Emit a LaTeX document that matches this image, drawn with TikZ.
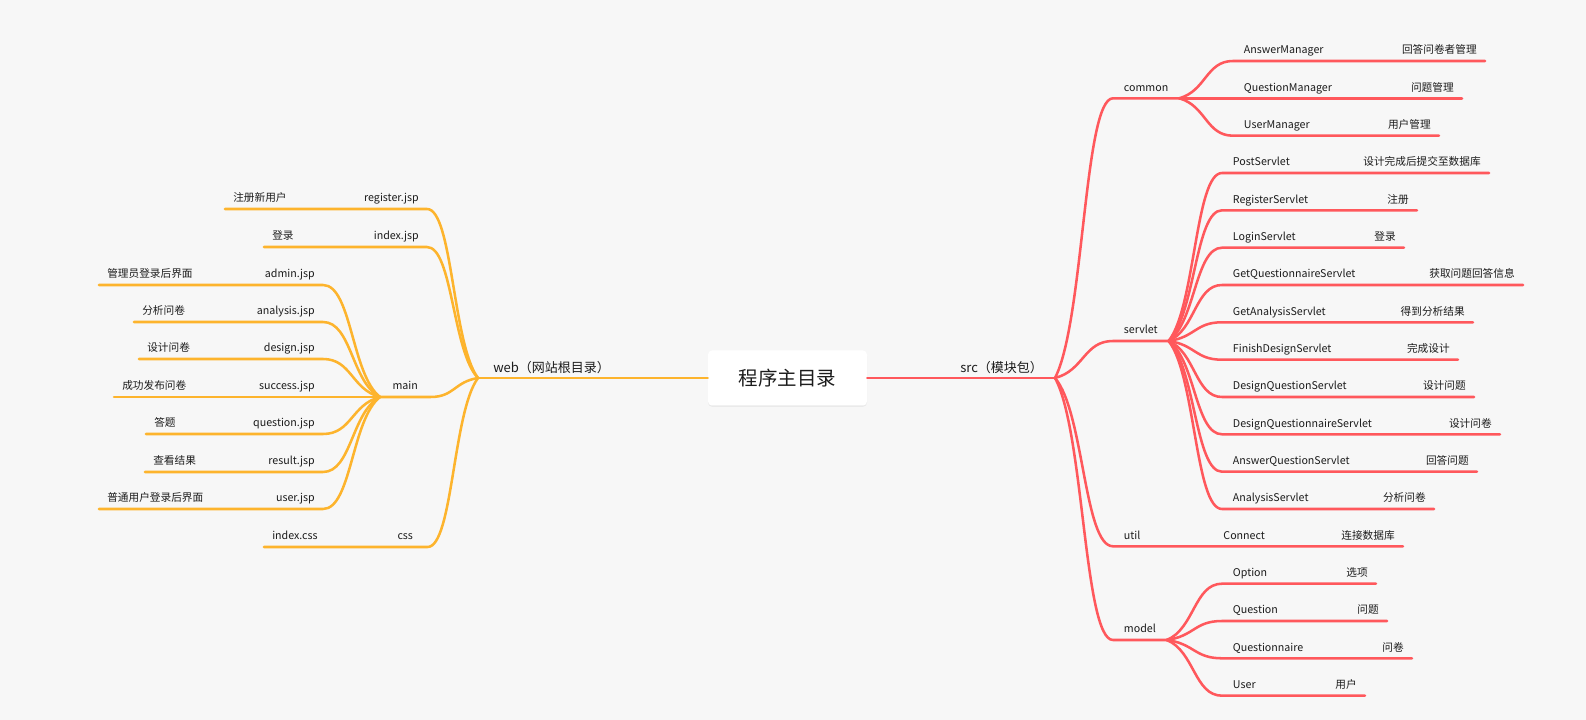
\documentclass[tikz,border=0pt]{standalone}
\usepackage{fontspec}
\setmainfont{Noto Sans CJK SC}
\usetikzlibrary{calc,shadows}

\definecolor{paper}{RGB}{247,247,247}
\definecolor{ink}{RGB}{28,28,28}
\definecolor{webline}{RGB}{253,180,45}
\definecolor{srcline}{RGB}{255,88,92}

\tikzset{
  txt/.style={font=\fontsize{8}{10}\selectfont, text=ink, inner xsep=6pt, inner ysep=3pt, text height=6pt, text depth=2.25pt},
  lft/.style={txt, anchor=south west},
  rgt/.style={txt, anchor=south east},
  kid/.style={txt, anchor=south west, inner xsep=8pt},
  topic/.style={txt, font=\fontsize{9.75}{12}\selectfont, inner ysep=1.55pt, anchor=south west},
  fork/.style={to path={let \p1=(\tikztostart), \p2=(\tikztotarget) in
      .. controls ({\x1+0.5*(\x2-\x1)}, {\y1+0.2*(\y2-\y1)}) and ({\x1+0.5*(\x2-\x1)}, \y2) .. (\tikztotarget) \tikztonodes}},
  web/.style={draw=webline, line width=1.9pt, line cap=round},
  src/.style={draw=srcline, line width=1.9pt, line cap=round},
}

\begin{document}
\begin{tikzpicture}[x=0.75pt, y=-0.75pt]
    \fill[paper] (0,0) rectangle (1586,720);
    \useasboundingbox (0,0) rectangle (1586,720);

    \node [fill=white, rounded corners=3pt, minimum width=119.25pt, minimum height=41.25pt,
           drop shadow={shadow xshift=0pt, shadow yshift=-1pt, opacity=0.1},
           font=\fontsize{14.6}{17}\selectfont, text=ink] (root) at (787.5,378) {程序主目录};
    \coordinate (webj) at (478,378);
    \coordinate (srcj) at (1055,378);

    % web side
    \node [topic] (web) at (485,378) {web（网站根目录）};
    \node [rgt] (reg) at (427,209) {register.jsp};
    \node [lft] (regd) at (225,209) {注册新用户};
    \node [rgt] (idx) at (427,247) {index.jsp};
    \node [lft] (idxd) at (264,247) {登录};
    \node [lft, minimum width=37.5pt] (main) at (380,397) {main};
    \node [rgt] (adm) at (323,285) {admin.jsp};
    \node [lft] (admd) at (99,285) {管理员登录后界面};
    \node [rgt] (ana) at (323,322) {analysis.jsp};
    \node [lft] (anad) at (134,322) {分析问卷};
    \node [rgt] (des) at (323,359) {design.jsp};
    \node [lft] (desd) at (139,359) {设计问卷};
    \node [rgt] (suc) at (323,397) {success.jsp};
    \node [lft] (sucd) at (114,397) {成功发布问卷};
    \node [rgt] (que) at (323,434) {question.jsp};
    \node [lft] (qued) at (146,434) {答题};
    \node [rgt] (res) at (323,472) {result.jsp};
    \node [lft] (resd) at (145,472) {查看结果};
    \node [rgt] (usr) at (323,509) {user.jsp};
    \node [lft] (usrd) at (99,509) {普通用户登录后界面};
    \node [lft, minimum width=33pt] (css) at (383,547) {css};
    \node [lft] (cssf) at (264,547) {index.css};

    \path [web] (root.west) -- (webj);
    \path [web] (webj) to[fork] (reg.south east) -- (regd.south west);
    \path [web] (webj) to[fork] (idx.south east) -- (idxd.south west);
    \path [web] (webj) to[fork] (main.south east) -- (main.south west);
    \path [web] (webj) to[fork] (css.south east) -- (cssf.south west);
    \path [web] (main.south west) to[fork] (adm.south east) -- (admd.south west);
    \path [web] (main.south west) to[fork] (ana.south east) -- (anad.south west);
    \path [web] (main.south west) to[fork] (des.south east) -- (desd.south west);
    \path [web] (main.south west) to[fork] (suc.south east) -- (sucd.south west);
    \path [web] (main.south west) to[fork] (que.south east) -- (qued.south west);
    \path [web] (main.south west) to[fork] (res.south east) -- (resd.south west);
    \path [web] (main.south west) to[fork] (usr.south east) -- (usrd.south west);

    % src side
    \node [topic] (src) at (952,378) {src（模块包）};
    \node [kid] (common) at (1113,98.3) {common};
    \node [kid] (servlet) at (1113,341) {servlet};
    \node [kid] (util) at (1113,546.3) {util};
    \node [kid] (model) at (1113,640) {model};

    \node [kid] (am) at (1233,61) {AnswerManager};
    \node [rgt] (amd) at (1485,61) {回答问卷者管理};
    \node [kid] (qm) at (1233,98.3) {QuestionManager};
    \node [rgt] (qmd) at (1462,98.3) {问题管理};
    \node [kid] (um) at (1233,135.7) {UserManager};
    \node [rgt] (umd) at (1439,135.7) {用户管理};

    \node [kid] (post) at (1222,173) {PostServlet};
    \node [rgt] (postd) at (1489,173) {设计完成后提交至数据库};
    \node [kid] (regs) at (1222,210.3) {RegisterServlet};
    \node [rgt] (regsd) at (1417,210.3) {注册};
    \node [kid] (login) at (1222,247.7) {LoginServlet};
    \node [rgt] (logind) at (1404,247.7) {登录};
    \node [kid] (getq) at (1222,285) {GetQuestionnaireServlet};
    \node [rgt] (getqd) at (1523,285) {获取问题回答信息};
    \node [kid] (geta) at (1222,322.3) {GetAnalysisServlet};
    \node [rgt] (getad) at (1473,322.3) {得到分析结果};
    \node [kid] (fin) at (1222,359.7) {FinishDesignServlet};
    \node [rgt] (find) at (1458,359.7) {完成设计};
    \node [kid] (dq) at (1222,397) {DesignQuestionServlet};
    \node [rgt] (dqd) at (1474,397) {设计问题};
    \node [kid] (dqn) at (1222,434.3) {DesignQuestionnaireServlet};
    \node [rgt] (dqnd) at (1500,434.3) {设计问卷};
    \node [kid] (aq) at (1222,471.7) {AnswerQuestionServlet};
    \node [rgt] (aqd) at (1477,471.7) {回答问题};
    \node [kid] (anas) at (1222,509) {AnalysisServlet};
    \node [rgt] (anasd) at (1434,509) {分析问卷};

    \node [kid] (conn) at (1212.5,546.3) {Connect};
    \node [rgt] (connd) at (1403,546.3) {连接数据库};

    \node [kid] (opt) at (1222,583.7) {Option};
    \node [rgt] (optd) at (1376,583.7) {选项};
    \node [kid] (ques) at (1222,621) {Question};
    \node [rgt] (quesd) at (1387,621) {问题};
    \node [kid] (qn) at (1222,658.3) {Questionnaire};
    \node [rgt] (qnd) at (1412,658.3) {问卷};
    \node [kid] (user) at (1222,695.7) {User};
    \node [rgt] (userd) at (1365,695.7) {用户};

    \path [src] (root.east) -- (srcj);
    \path [src] (srcj) to[fork] (common.south west) -- (common.south east);
    \path [src] (srcj) to[fork] (servlet.south west) -- (servlet.south east);
    \path [src] (srcj) to[fork] (util.south west) -- (connd.south east);
    \path [src] (srcj) to[fork] (model.south west) -- (model.south east);
    \path [src] (common.south east) to[fork] (am.south west) -- (amd.south east);
    \path [src] (common.south east) to[fork] (qm.south west) -- (qmd.south east);
    \path [src] (common.south east) to[fork] (um.south west) -- (umd.south east);
    \path [src] (servlet.south east) to[fork] (post.south west) -- (postd.south east);
    \path [src] (servlet.south east) to[fork] (regs.south west) -- (regsd.south east);
    \path [src] (servlet.south east) to[fork] (login.south west) -- (logind.south east);
    \path [src] (servlet.south east) to[fork] (getq.south west) -- (getqd.south east);
    \path [src] (servlet.south east) to[fork] (geta.south west) -- (getad.south east);
    \path [src] (servlet.south east) to[fork] (fin.south west) -- (find.south east);
    \path [src] (servlet.south east) to[fork] (dq.south west) -- (dqd.south east);
    \path [src] (servlet.south east) to[fork] (dqn.south west) -- (dqnd.south east);
    \path [src] (servlet.south east) to[fork] (aq.south west) -- (aqd.south east);
    \path [src] (servlet.south east) to[fork] (anas.south west) -- (anasd.south east);
    \path [src] (model.south east) to[fork] (opt.south west) -- (optd.south east);
    \path [src] (model.south east) to[fork] (ques.south west) -- (quesd.south east);
    \path [src] (model.south east) to[fork] (qn.south west) -- (qnd.south east);
    \path [src] (model.south east) to[fork] (user.south west) -- (userd.south east);
\end{tikzpicture}
\end{document}
